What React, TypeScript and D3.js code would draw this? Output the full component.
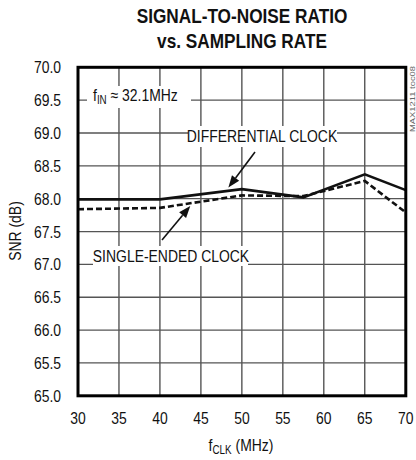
import React from "react";
import * as d3 from "d3";

const fclk = [30, 40, 50, 57.5, 65, 70];
const differential = [67.99, 67.99, 68.145, 68.02, 68.37, 68.13];
const singleEnded = [67.84, 67.86, 68.05, 68.04, 68.27, 67.79];
const xTicks = [30, 35, 40, 45, 50, 55, 60, 65, 70];
const yTicks = [65.0, 65.5, 66.0, 66.5, 67.0, 67.5, 68.0, 68.5, 69.0, 69.5, 70.0];
const title1 = "SIGNAL-TO-NOISE RATIO";
const title2 = "vs. SAMPLING RATE";
const xTitleMain = "f";
const xTitleSub = "CLK";
const xTitleRest = " (MHz)";
const yTitle = "SNR (dB)";
const diffLabel = "DIFFERENTIAL CLOCK";
const singleLabel = "SINGLE-ENDED CLOCK";
const watermark = "MAX1211 toc08";
// arrows in data coords: [fromX, fromY, toX, toY]
const diffArrow = [51.6, 68.71, 48.35, 68.17];
const singleArrow = [40.25, 67.37, 43.7, 67.89];

const W = 416;
const H = 460;
const L = 78, R = 405.8, T = 67.3, B = 395.8;
const FONT = "'Liberation Sans', Arial, sans-serif";
const SX = 0.82;

const x = d3.scaleLinear().domain([30, 70]).range([L, R]);
const y = d3.scaleLinear().domain([65, 70]).range([B, T]);

function NText(props: { x: number; y: number; size: number; anchor?: string; bold?: boolean; fill?: string; children: React.ReactNode }) {
  const { size, anchor = "start", bold = false, fill = "#111" } = props;
  return (
    <g transform={`translate(${props.x},${props.y}) scale(${SX},1)`}>
      <text x={0} y={0} fontSize={size} fontFamily={FONT} fontWeight={bold ? "bold" : "normal"} textAnchor={anchor} fill={fill}>
        {props.children}
      </text>
    </g>
  );
}

function Arrow({ a }: { a: number[] }) {
  const x1 = x(a[0]), y1 = y(a[1]), x2 = x(a[2]), y2 = y(a[3]);
  const ang = Math.atan2(y2 - y1, x2 - x1);
  const len = 12, half = 4.5;
  const bx = x2 - len * Math.cos(ang), by = y2 - len * Math.sin(ang);
  const px = -Math.sin(ang) * half, py = Math.cos(ang) * half;
  return (
    <g>
      <line x1={x1} y1={y1} x2={bx} y2={by} stroke="#111" strokeWidth={1.6} />
      <polygon points={`${x2},${y2} ${bx + px},${by + py} ${bx - px},${by - py}`} fill="#111" />
    </g>
  );
}

export default function App() {
  const line = d3.line<number>().x((_, i) => x(fclk[i])).y((d) => y(d));
  return (
    <div>
      <style>{`body{margin:0}`}</style>
      <svg width={W} height={H} style={{ display: "block", background: "#fff" }}>
        {/* title */}
        <NText x={242} y={23} size={21} anchor="middle" bold>{title1}</NText>
        <NText x={242} y={48} size={21} anchor="middle" bold>{title2}</NText>

        {/* grid */}
        {xTicks.slice(1, -1).map((t) => (
          <line key={"vx" + t} x1={x(t)} x2={x(t)} y1={T} y2={B} stroke="#111" strokeWidth={1} />
        ))}
        {yTicks.slice(1, -1).map((t) => (
          <line key={"hy" + t} x1={L} x2={R} y1={y(t)} y2={y(t)} stroke="#555" strokeWidth={1.3} />
        ))}

        {/* label backgrounds */}
        <rect x={87} y={86} width={104} height={22} fill="#fff" />
        <rect x={188} y={126} width={149} height={21} fill="#fff" />
        <rect x={93} y={246} width={155} height={20} fill="#fff" />

        {/* series */}
        <path d={line(singleEnded) || ""} fill="none" stroke="#111" strokeWidth={2.6} strokeDasharray="6,3" />
        <path d={line(differential) || ""} fill="none" stroke="#111" strokeWidth={2.6} />

        {/* annotations */}
        <Arrow a={diffArrow} />
        <Arrow a={singleArrow} />
        <g transform={`translate(93,101) scale(${SX},1)`}>
          <text x={0} y={0} fontSize={17} fontFamily={FONT} fill="#111">
            {"f"}
            <tspan fontSize={12} dy={3}>IN</tspan>
            <tspan dy={-3}>{" \u2248 32.1MHz"}</tspan>
          </text>
        </g>
        <NText x={262} y={142} size={17} anchor="middle">{diffLabel}</NText>
        <NText x={171} y={262} size={17} anchor="middle">{singleLabel}</NText>

        {/* frame */}
        <rect x={L} y={T} width={R - L} height={B - T} fill="none" stroke="#000" strokeWidth={3} />

        {/* y ticks */}
        {yTicks.map((t) => (
          <NText key={"yt" + t} x={61} y={y(t) + 6} size={17} anchor="end">{t.toFixed(1)}</NText>
        ))}
        {/* x ticks */}
        {xTicks.map((t) => (
          <NText key={"xt" + t} x={x(t)} y={424} size={17} anchor="middle">{String(t)}</NText>
        ))}

        {/* axis titles */}
        <g transform={`translate(241,451) scale(${SX},1)`}>
          <text x={0} y={0} fontSize={17} fontFamily={FONT} fill="#111" textAnchor="middle">
            {xTitleMain}
            <tspan fontSize={12} dy={3}>{xTitleSub}</tspan>
            <tspan dy={-3}>{xTitleRest}</tspan>
          </text>
        </g>
        <g transform={`translate(21,231) rotate(-90) scale(${SX},1)`}>
          <text x={0} y={0} fontSize={17} fontFamily={FONT} fill="#111" textAnchor="middle">{yTitle}</text>
        </g>

        {/* watermark */}
        <g transform="translate(415,132) rotate(-90)">
          <text x={0} y={0} fontSize={7.5} fontFamily={FONT} fill="#666" textLength={66} lengthAdjust="spacingAndGlyphs">{watermark}</text>
        </g>
      </svg>
    </div>
  );
}
